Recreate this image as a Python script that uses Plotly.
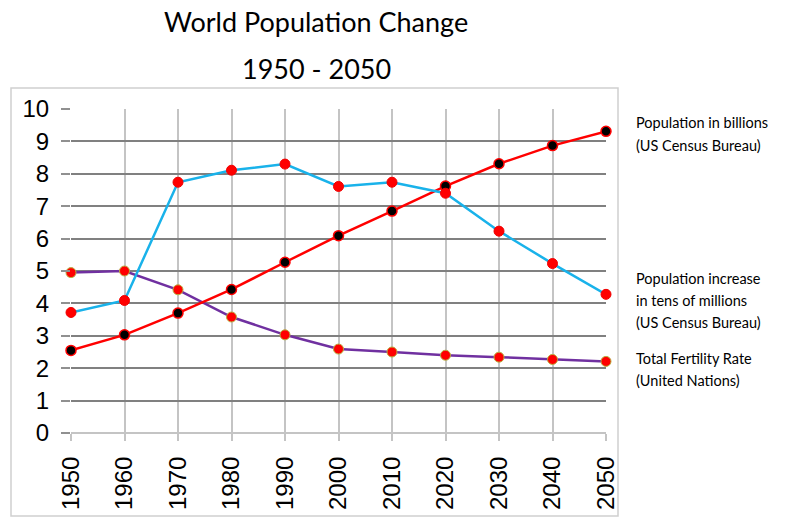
import plotly.graph_objects as go

years = [1950, 1960, 1970, 1980, 1990, 2000, 2010, 2020, 2030, 2040, 2050]
population_billions = [2.55, 3.03, 3.70, 4.43, 5.27, 6.09, 6.85, 7.62, 8.31, 8.87, 9.31]
increase_tens_of_millions = [3.72, 4.09, 7.74, 8.11, 8.30, 7.61, 7.74, 7.40, 6.23, 5.23, 4.28]
fertility_rate = [4.95, 5.00, 4.42, 3.58, 3.03, 2.59, 2.50, 2.40, 2.34, 2.27, 2.21]

y_ticks = list(range(0, 11))
title_lines = ["World Population Change", "1950 - 2050"]
label_lines = [
    ("Population in billions", 123),
    ("(US Census Bureau)", 145),
    ("Population increase", 278),
    ("in tens of millions", 300),
    ("(US Census Bureau)", 322),
    ("Total Fertility Rate", 358),
    ("(United Nations)", 380),
]

W, H = 800, 523
L, R, T, B = 71, 606, 109, 433  # plot area in window pixels
pw, ph = R - L, B - T


def px_x(px):
    return (px - L) / pw


def px_y(py):
    return (B - py) / ph


fig = go.Figure()

fig.add_trace(go.Scatter(
    x=years, y=fertility_rate, mode="lines+markers", name="Total Fertility Rate",
    line=dict(color="#7030a0", width=2.5),
    marker=dict(color="#ff0000", size=10, line=dict(color="#b8b040", width=1)),
    cliponaxis=False,
))
fig.add_trace(go.Scatter(
    x=years, y=population_billions, mode="lines+markers", name="Population in billions",
    line=dict(color="#ff0000", width=2.5),
    marker=dict(color="#000000", size=10, line=dict(color="#ff0000", width=1.5)),
    cliponaxis=False,
))
fig.add_trace(go.Scatter(
    x=years, y=increase_tens_of_millions, mode="lines+markers", name="Population increase",
    line=dict(color="#19b2ea", width=2.5),
    marker=dict(color="#ff0000", size=10, line=dict(color="#f00000", width=1)),
    cliponaxis=False,
))

annotations = []
for t, py in zip(title_lines, [22, 68]):
    annotations.append(dict(
        text=t, x=px_x(316), y=px_y(py), xref="paper", yref="paper",
        xanchor="center", yanchor="middle", showarrow=False,
        font=dict(family="Lato, Open Sans, sans-serif", size=27, color="#000000"),
    ))
for t, py in label_lines:
    annotations.append(dict(
        text=t, x=px_x(634), y=px_y(py), xref="paper", yref="paper",
        xanchor="left", yanchor="middle", showarrow=False,
        font=dict(family="Lato, Open Sans, sans-serif", size=14.5, color="#000000"),
    ))

fig.update_layout(
    width=W, height=H,
    margin=dict(l=L, r=W - R, t=T, b=H - B, autoexpand=False),
    paper_bgcolor="white", plot_bgcolor="white",
    showlegend=False,
    annotations=annotations,
    shapes=[dict(
        type="rect", xref="paper", yref="paper",
        x0=px_x(11), x1=px_x(618), y0=px_y(516), y1=px_y(88),
        line=dict(color="#d0d0d0", width=1.5), fillcolor="rgba(0,0,0,0)", layer="below",
    )],
    xaxis=dict(
        range=[1950, 2050], tickvals=years, ticktext=[str(y) for y in years],
        tickangle=-90, showgrid=True, gridcolor="#c4c4c4", gridwidth=1.5,
        zeroline=False, showline=False, automargin=False,
        ticks="outside", ticklen=7, tickcolor="#c4c4c4", tickwidth=1.5,
        tickfont=dict(family="Liberation Sans, Arial, sans-serif", size=24, color="#000000"),
        ticklabelstandoff=6,
    ),
    yaxis=dict(
        range=[0, 10], tickvals=y_ticks, showgrid=True, gridcolor="#808080", gridwidth=1.5,
        zeroline=True, zerolinecolor="#c4c4c4", zerolinewidth=1.5, showline=False,
        automargin=False,
        ticks="outside", ticklen=9, tickcolor="#909090", tickwidth=1.5,
        tickfont=dict(family="Liberation Sans, Arial, sans-serif", size=24, color="#000000"),
        ticklabelstandoff=7,
    ),
)

fig.write_html(
    "out.html",
    config={"displayModeBar": False},
    post_script="document.body.style.margin='0';document.body.style.overflow='hidden';",
)
